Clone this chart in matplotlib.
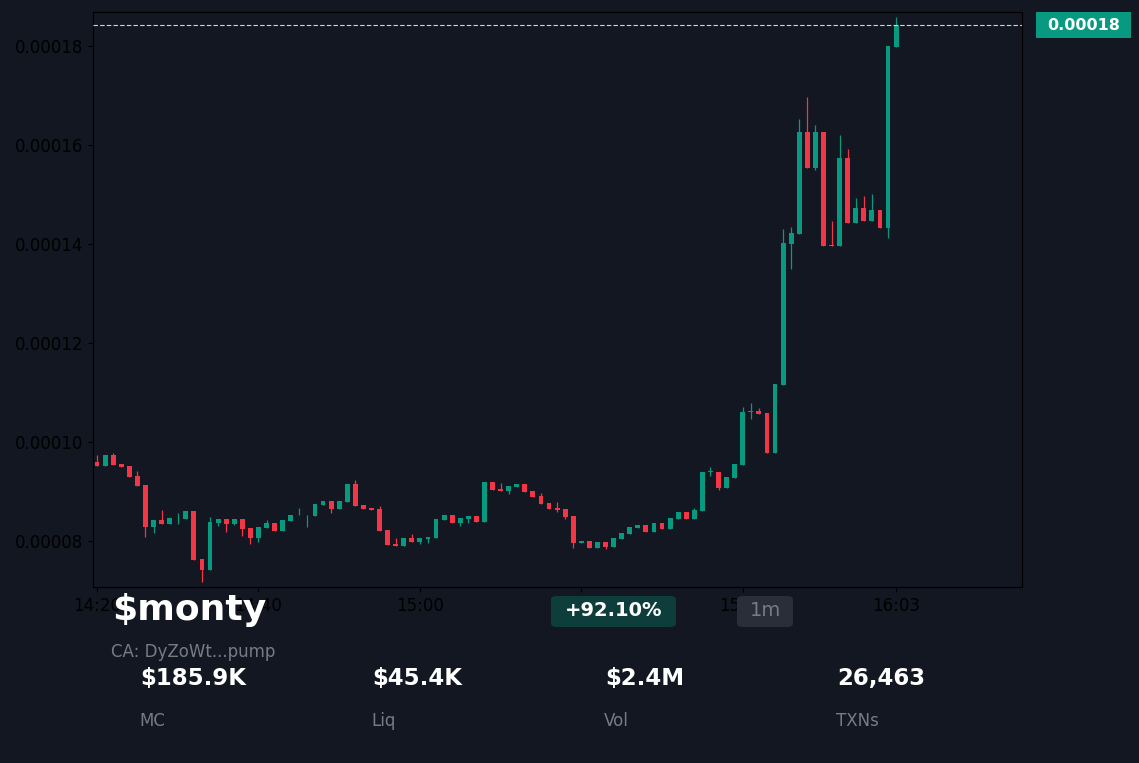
import matplotlib
matplotlib.use("Agg")
import matplotlib.pyplot as plt
from matplotlib.patches import FancyBboxPatch, Rectangle
import numpy as np

# 1-minute candles (price)
opens = [9.602, 9.515, 9.737, 9.562, 9.515, 9.313, 9.131, 8.289, 8.424, 8.343,
         8.455, 8.444, 8.606, 7.630, 7.414, 8.358, 8.438, 8.343, 8.438, 8.257,
         8.055, 8.263, 8.358, 8.208, 8.410, 8.515, 8.515, 8.511, 8.727, 8.808,
         8.646, 8.794, 9.152, 8.727, 8.673, 8.646, 8.222, 7.939, 7.899, 8.067,
         7.980, 8.046, 8.067, 8.424, 8.525, 8.370, 8.444, 8.505, 8.384, 9.198,
         9.051, 9.016, 9.097, 9.152, 9.016, 8.915, 8.774, 8.673, 8.646, 8.505,
         7.966, 8.000, 7.865, 7.974, 7.885, 8.046, 8.141, 8.269, 8.323, 8.188,
         8.358, 8.242, 8.451, 8.580, 8.451, 8.612, 9.390, 9.394, 9.077, 9.273,
         9.541, 10.605, 10.632, 10.592, 9.772, 11.152, 14.000, 14.202, 16.269, 15.529,
         16.269, 13.980, 13.960, 15.743, 14.418, 14.733, 14.465, 14.693, 14.329, 17.986]
closes = [9.515, 9.737, 9.541, 9.501, 9.299, 9.117, 8.289, 8.424, 8.343, 8.459,
          8.470, 8.606, 7.616, 7.414, 8.378, 8.438, 8.343, 8.438, 8.242, 8.055,
          8.277, 8.358, 8.208, 8.424, 8.519, 8.522, 8.522, 8.747, 8.808, 8.646,
          8.808, 9.152, 8.713, 8.646, 8.626, 8.208, 7.919, 7.899, 8.067, 7.980,
          8.067, 8.087, 8.444, 8.525, 8.364, 8.465, 8.505, 8.384, 9.198, 9.030,
          9.010, 9.117, 9.152, 8.990, 8.889, 8.747, 8.646, 8.626, 8.491, 7.954,
          8.000, 7.865, 7.974, 7.885, 8.055, 8.162, 8.283, 8.323, 8.188, 8.358,
          8.242, 8.471, 8.580, 8.451, 8.626, 9.394, 9.400, 9.065, 9.287, 9.556,
          10.612, 10.615, 10.566, 9.772, 11.172, 14.020, 14.216, 16.269, 15.535, 16.269,
          13.960, 13.960, 15.743, 14.430, 14.733, 14.465, 14.693, 14.329, 18.000, 18.424]
highs = [9.737, 9.737, 9.784, 9.562, 9.515, 9.420, 9.131, 8.424, 8.626, 8.459,
         8.572, 8.606, 8.606, 7.630, 8.491, 8.438, 8.438, 8.438, 8.438, 8.257,
         8.277, 8.424, 8.358, 8.424, 8.519, 8.661, 8.522, 8.747, 8.808, 8.808,
         8.808, 9.152, 9.232, 8.727, 8.673, 8.707, 8.222, 8.055, 8.067, 8.141,
         8.067, 8.087, 8.444, 8.525, 8.525, 8.465, 8.505, 8.505, 9.198, 9.198,
         9.166, 9.117, 9.152, 9.152, 9.016, 8.976, 8.774, 8.794, 8.646, 8.505,
         8.000, 8.000, 7.974, 7.974, 8.055, 8.162, 8.283, 8.323, 8.323, 8.358,
         8.358, 8.471, 8.580, 8.580, 8.673, 9.394, 9.489, 9.394, 9.287, 9.556,
         10.701, 10.794, 10.681, 10.592, 11.172, 14.297, 14.349, 16.525, 16.976, 16.404,
         16.269, 14.465, 16.202, 15.919, 14.935, 14.976, 15.004, 14.693, 18.000, 18.580]
lows = [9.515, 9.515, 9.541, 9.501, 9.299, 9.117, 8.087, 8.168, 8.343, 8.343,
        8.337, 8.444, 7.616, 7.178, 7.414, 8.303, 8.188, 8.320, 8.101, 7.939,
        7.986, 8.263, 8.208, 8.208, 8.410, 8.515, 8.289, 8.511, 8.727, 8.560,
        8.646, 8.794, 8.713, 8.646, 8.626, 8.208, 7.919, 7.899, 7.899, 7.980,
        7.933, 7.954, 8.067, 8.424, 8.364, 8.309, 8.364, 8.384, 8.384, 9.030,
        9.010, 8.943, 9.097, 8.990, 8.889, 8.747, 8.646, 8.586, 8.438, 7.853,
        7.966, 7.865, 7.865, 7.838, 7.885, 8.046, 8.141, 8.269, 8.188, 8.188,
        8.242, 8.242, 8.451, 8.451, 8.451, 8.612, 9.319, 9.030, 9.077, 9.273,
        9.541, 10.459, 10.566, 9.772, 9.772, 11.152, 13.495, 14.202, 15.535, 15.495,
        13.960, 13.960, 13.960, 14.430, 14.418, 14.465, 14.465, 14.329, 14.127, 17.986]
scale = 1e-5

tick_idx = [0, 20, 40, 60, 80, 99]
tick_labels = ["14:20", "14:40", "15:00", "15:20", "15:40", "16:03"]

stat_values = ["$185.9K", "$45.4K", "$2.4M", "26,463"]
stat_names = ["MC", "Liq", "Vol", "TXNs"]

BG = "#131722"
UP = "#089981"
DOWN = "#f23645"
W, H = 1139, 763

o = np.array(opens) * scale
c = np.array(closes) * scale
h = np.array(highs) * scale
l = np.array(lows) * scale
x = np.arange(len(o))
colors = [UP if cc >= oo else DOWN for oo, cc in zip(o, c)]

fig = plt.figure(figsize=(W / 100, H / 100), dpi=100, facecolor=BG)
ax = fig.add_axes([93 / W, 1 - 587 / H, (1022 - 93) / W, (587 - 12) / H])
ax.set_facecolor(BG)

ax.vlines(x, l, h, colors=colors, linewidth=0.9, zorder=2)
bottoms = np.minimum(o, c)
heights = np.maximum(np.abs(c - o), 1.6e-7)
ax.bar(x, heights, bottom=bottoms, width=0.6, color=colors, linewidth=0, zorder=3)

ax.axhline(c[-1], color="#d1d4dc", linestyle=(0, (4, 2)), linewidth=0.8, zorder=4)

ax.set_xlim(-0.5, 114.6)
ax.set_ylim(7.07e-5, 1.869e-4)
ax.set_xticks(tick_idx)
ax.set_xticklabels(tick_labels)
ax.set_yticks(np.arange(8e-5, 1.81e-4, 2e-5))
ax.yaxis.set_major_formatter(plt.FormatStrFormatter("%.5f"))
ax.tick_params(labelsize=12, colors="black")
for s in ax.spines.values():
    s.set_color("black")


def px_box(x0, y0, x1, y1, color, rounded=True):
    # box given in figure pixels from top-left
    if rounded:
        p = FancyBboxPatch((x0 / W, 1 - y1 / H), (x1 - x0) / W, (y1 - y0) / H,
                           boxstyle="round,pad=0,rounding_size=0.005",
                           transform=fig.transFigure, fc=color, ec="none", zorder=5)
    else:
        p = Rectangle((x0 / W, 1 - y1 / H), (x1 - x0) / W, (y1 - y0) / H,
                      transform=fig.transFigure, fc=color, ec="none", zorder=5)
    fig.add_artist(p)


# last price label
px_box(1036, 12, 1131, 38, UP, rounded=False)
fig.text(1083.5 / W, 1 - 25 / H, "0.00018", color="white", fontsize=11.5,
         fontweight="bold", ha="center", va="center", zorder=6)

# header overlay
fig.text(112 / W, 1 - 610 / H, "\\$monty", color="white", fontsize=26,
         fontweight="bold", ha="left", va="center", zorder=6)
fig.text(111 / W, 1 - 652 / H, "CA: DyZoWt...pump", color="#787b86",
         fontsize=12, ha="left", va="center", zorder=6)
px_box(551, 596, 676, 627, "#0e3e3b")
fig.text(613.5 / W, 1 - 611 / H, "+92.10%", color="white", fontsize=14,
         fontweight="bold", ha="center", va="center", zorder=6)
px_box(737, 596, 793, 627, "#2a2e39")
fig.text(765 / W, 1 - 611 / H, "1m", color="#787b86", fontsize=14,
         ha="center", va="center", zorder=6)

stat_x = [140, 372, 605, 837]
for sx, val, name in zip(stat_x, stat_values, stat_names):
    fig.text(sx / W, 1 - 678 / H, val.replace("$", "\\$"), color="white",
             fontsize=16.5, fontweight="bold", ha="left", va="center", zorder=6)
    fig.text((sx - 1) / W, 1 - 721 / H, name, color="#787b86",
             fontsize=12, ha="left", va="center", zorder=6)

fig.savefig("out.png", dpi=100, facecolor=BG)
